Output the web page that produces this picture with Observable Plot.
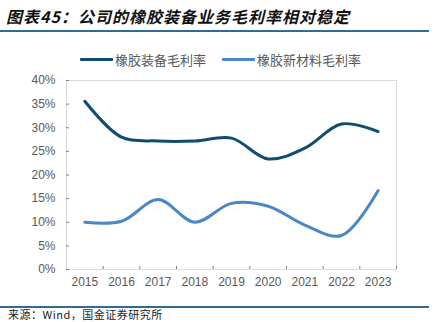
<!DOCTYPE html>
<html>
<head>
<meta charset="utf-8">
<script src="https://cdn.jsdelivr.net/npm/d3@7"></script>
<script src="https://cdn.jsdelivr.net/npm/@observablehq/plot@0.6"></script>
<style>
  html, body { margin: 0; padding: 0; background: #fff; }
  #wrap { position: relative; width: 437px; height: 322px; overflow: hidden; font-family: "Noto Sans CJK SC", sans-serif; }
  #title { position: absolute; left: 6px; top: 4px; font-size: 16px; font-weight: bold; font-style: italic; color: #111; white-space: nowrap; letter-spacing: 1px; }
  .hr { position: absolute; left: 0; width: 429px; height: 2px; background: #2F6A98; }
  #legend { position: absolute; top: 49px; left: 80px; font-size: 13px; color: #595959; white-space: nowrap; }
  .lg { position: absolute; top: 0; display: flex; align-items: center; height: 20px; }
  .sw { width: 33px; height: 3px; margin-right: 2px; border-radius: 1px; }
  #chart { position: absolute; left: 0; top: 65px; }
  #source { position: absolute; left: 8px; top: 308px; font-size: 11px; line-height: 13px; color: #222; white-space: nowrap; font-family: "Noto Sans CJK SC", serif; letter-spacing: 0.5px; }
</style>
</head>
<body>
<div id="wrap">
  <div id="title">图表45：公司的橡胶装备业务毛利率相对稳定</div>
  <div class="hr" style="top:30px"></div>
  <div id="legend"></div>
  <div id="chart"></div>
  <div class="hr" style="top:306px"></div>
  <div id="source">来源：Wind，国金证券研究所</div>
</div>
<script>
const years = [2015, 2016, 2017, 2018, 2019, 2020, 2021, 2022, 2023];
const equipmentMargin = [35.6, 28.0, 27.2, 27.2, 27.8, 23.4, 25.7, 30.8, 29.2];
const materialMargin = [10.0, 10.2, 14.8, 10.0, 14.0, 13.4, 9.4, 7.2, 16.7];
const seriesNames = ["橡胶装备毛利率", "橡胶新材料毛利率"];
const seriesColors = ["#0E4C72", "#4A87C6"];
const yTicks = [0, 5, 10, 15, 20, 25, 30, 35, 40];
const boundaryTicks = [2015.5, 2016.5, 2017.5, 2018.5, 2019.5, 2020.5, 2021.5, 2022.5, 2023.5];

const rows = [];
years.forEach((y, i) => {
  rows.push({year: y, value: equipmentMargin[i], series: seriesNames[0]});
  rows.push({year: y, value: materialMargin[i], series: seriesNames[1]});
});

// legend
const legend = document.getElementById("legend");
const lgLeft = [0, 142];
seriesNames.forEach((n, i) => {
  const d = document.createElement("div");
  d.className = "lg";
  d.style.left = lgLeft[i] + "px";
  d.innerHTML = `<span class="sw" style="background:${seriesColors[i]}"></span><span>${n}</span>`;
  legend.appendChild(d);
});

const chart = Plot.plot({
  width: 437,
  height: 235,
  marginLeft: 66,
  marginRight: 41,
  marginTop: 15,
  marginBottom: 31,
  style: {fontFamily: "'Liberation Sans', Arial, sans-serif", fontSize: "12px", color: "#595959", background: "transparent"},
  x: {type: "linear", domain: [2014.5, 2023.5], axis: null, label: null},
  y: {domain: [0, 40], axis: null, label: null},
  color: {domain: seriesNames, range: seriesColors},
  marks: [
    Plot.frame({stroke: "#d9d9d9"}),
    Plot.axisX({ticks: years, tickFormat: d => String(d), tickSize: 0, tickPadding: 8, fill: "#595959", fontSize: 12, label: null}),
    Plot.axisX({ticks: boundaryTicks, tickFormat: () => "", tickSize: -3, stroke: "#7f7f7f", line: true, label: null}),
    Plot.axisY({ticks: yTicks, tickFormat: d => d + "%", tickSize: 0, tickPadding: 11, fill: "#595959", fontSize: 12, label: null}),
    Plot.axisY({ticks: yTicks, tickFormat: () => "", tickSize: -3, stroke: "#7f7f7f", line: true, label: null}),
    Plot.lineY(rows, {x: "year", y: "value", z: "series", stroke: "series", strokeWidth: 3, curve: "catmull-rom"})
  ]
});
document.getElementById("chart").appendChild(chart);
</script>
</body>
</html>
